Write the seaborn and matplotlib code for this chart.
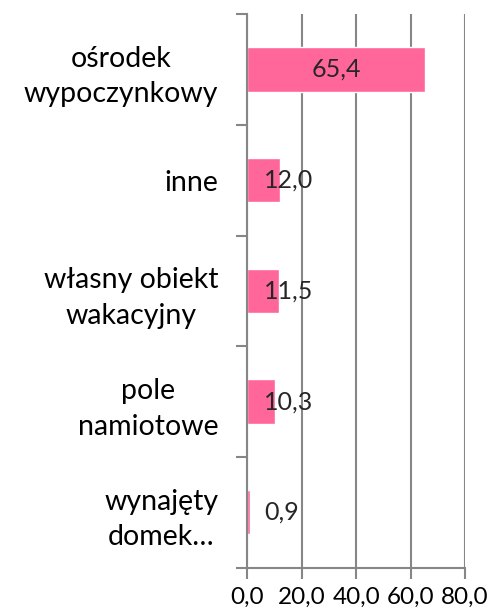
import matplotlib
matplotlib.use("Agg")
import matplotlib.pyplot as plt
import seaborn as sns
import pandas as pd
from matplotlib.ticker import FuncFormatter, FixedLocator

categories = ["ośrodek\nwypoczynkowy", "inne", "własny obiekt\nwakacyjny",
              "pole\nnamiotowe", "wynajęty\ndomek…"]
values = [65.4, 12.0, 11.5, 10.3, 0.9]
x_ticks = [0, 20, 40, 60, 80]

sns.set_theme(style="white")
plt.rcParams["font.family"] = ["Lato", "DejaVu Sans"]

df = pd.DataFrame({"kategoria": categories, "wartosc": values})

fig = plt.figure(figsize=(4.93, 6.14), dpi=100)
ax = fig.add_axes([0.502, 0.0754, 0.441, 0.9016])

grid_col = "#868686"
bar_col = "#FF6699"

sns.barplot(data=df, x="wartosc", y="kategoria", orient="h", color=bar_col,
            width=0.4, saturation=1, ax=ax, zorder=3)

ax.set_xlim(0, 80)
ax.set_ylim(len(categories) - 0.5, -0.5)
ax.xaxis.set_major_locator(FixedLocator(x_ticks))
ax.xaxis.set_major_formatter(FuncFormatter(lambda v, p: f"{v:.1f}".replace(".", ",")))
ax.grid(axis="x", color=grid_col, linewidth=1.5, zorder=0)
ax.grid(axis="y", visible=False)

for side in ("top", "right"):
    ax.spines[side].set_visible(False)
for side in ("left", "bottom"):
    ax.spines[side].set_color(grid_col)
    ax.spines[side].set_linewidth(1.5)
    ax.spines[side].set_zorder(4)

ax.tick_params(axis="x", direction="out", length=8, width=1.5, color=grid_col,
               labelsize=17.5, labelcolor="black", pad=6, bottom=True)
ax.yaxis.set_minor_locator(FixedLocator([i - 0.5 for i in range(len(categories) + 1)]))
ax.tick_params(axis="y", which="minor", direction="out", length=8, width=1.5,
               color=grid_col, left=True)
ax.tick_params(axis="y", which="major", length=0, labelsize=20.5, labelcolor="black", pad=21)
for lbl in ax.get_yticklabels():
    lbl.set_multialignment("center")
    lbl.set_linespacing(1.45)

ax.set_xlabel("")
ax.set_ylabel("")

for i, v in enumerate(values):
    txt = f"{v:.1f}".replace(".", ",")
    if v > 20:
        ax.text(v / 2, i, txt, ha="center", va="center", fontsize=18, zorder=5)
    else:
        ax.text(6.2, i, txt, ha="left", va="center", fontsize=18, zorder=5)

fig.savefig("out.png", dpi=100)
